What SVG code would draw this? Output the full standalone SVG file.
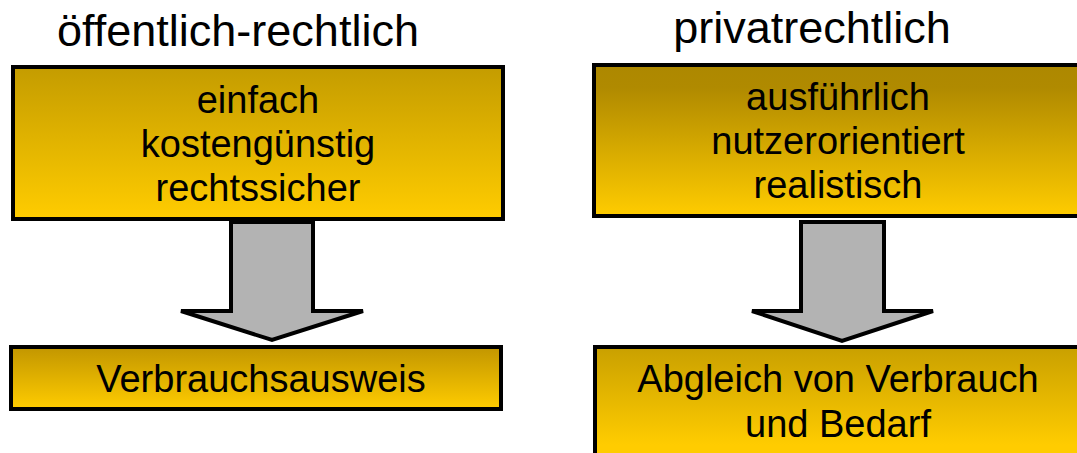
<svg xmlns="http://www.w3.org/2000/svg" width="1077" height="453" viewBox="0 0 1077 453">
<defs>
<linearGradient id="gA" x1="0" y1="0" x2="0" y2="1"><stop offset="0" stop-color="#c49c00"/><stop offset="1" stop-color="#ffcc00"/></linearGradient>
<linearGradient id="gB" x1="0" y1="0" x2="0" y2="1"><stop offset="0" stop-color="#ad8800"/><stop offset="0.15" stop-color="#b08a00"/><stop offset="1" stop-color="#ffcc00"/></linearGradient>
<linearGradient id="gC" x1="0" y1="0" x2="0" y2="1"><stop offset="0" stop-color="#c29600"/><stop offset="1" stop-color="#ffcc00"/></linearGradient>
<linearGradient id="gD" x1="0" y1="0" x2="0" y2="1"><stop offset="0" stop-color="#c9a000"/><stop offset="0.85" stop-color="#ffcc00"/><stop offset="1" stop-color="#ffcc00"/></linearGradient>
</defs>
<style>
.box{stroke:#000;stroke-width:4}
.arr{fill:#b3b3b3;stroke:#000;stroke-width:4;stroke-linejoin:miter}
text{font-family:"Liberation Sans",Arial,sans-serif;fill:#000;text-anchor:middle}
.t{font-size:45px}
.b{font-size:38px}
</style>
<g id="title-left"><text class="t" x="238" y="46">öffentlich-rechtlich</text></g>
<g id="title-right"><text class="t" x="812" y="43">privatrechtlich</text></g>
<g id="box-left-top">
<rect class="box" x="13" y="67" width="490" height="152" fill="url(#gA)"/>
<text class="b" x="258" y="113">einfach</text>
<text class="b" x="258" y="157">kostengünstig</text>
<text class="b" x="258" y="201">rechtssicher</text>
</g>
<g id="box-right-top">
<rect class="box" x="594" y="65" width="500" height="151" fill="url(#gB)"/>
<text class="b" x="838" y="110">ausführlich</text>
<text class="b" x="838" y="154">nutzerorientiert</text>
<text class="b" x="838" y="198">realistisch</text>
</g>
<g id="box-left-bottom">
<rect class="box" x="11" y="347" width="490" height="62" fill="url(#gC)"/>
<text class="b" x="261" y="392">Verbrauchsausweis</text>
</g>
<g id="box-right-bottom">
<rect class="box" x="595" y="347" width="500" height="115" fill="url(#gD)"/>
<text class="b" x="838" y="392">Abgleich von Verbrauch</text>
<text class="b" x="838" y="437">und Bedarf</text>
</g>
<g id="connectors">
<polygon class="arr" points="231,222 313,222 313,311 363,311 272,340 181,311 231,311"/>
<polygon class="arr" points="801,222 884,222 884,311 933,311 842,341 752,311 801,311"/>
</g>
</svg>
